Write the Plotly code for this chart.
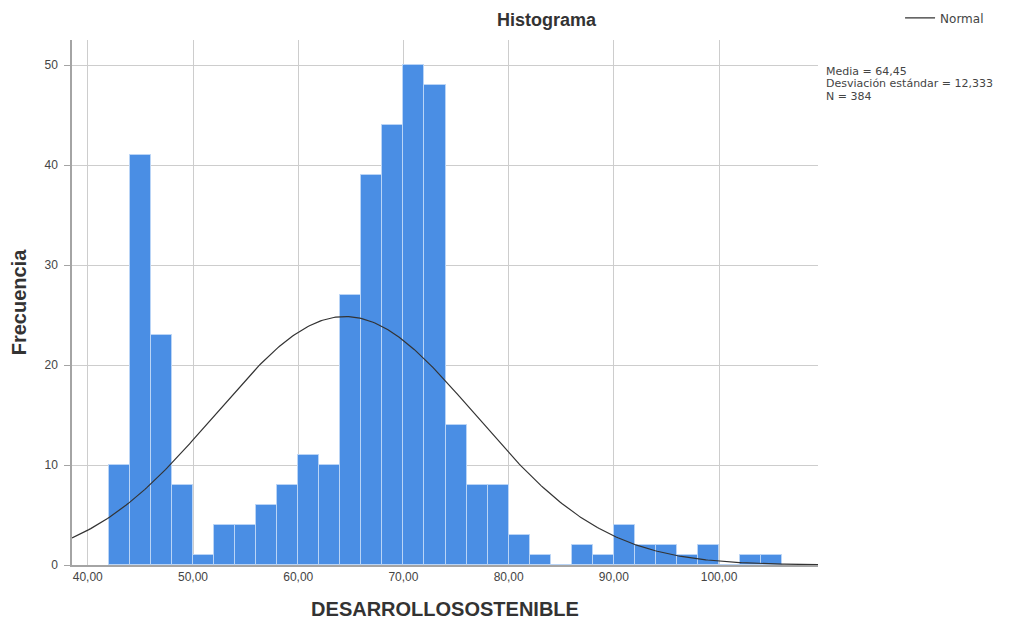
import numpy as np
import plotly.graph_objects as go

# Histogram bins (left edges, width 2) and frequencies
bin_starts = [42, 44, 46, 48, 50, 52, 54, 56, 58, 60, 62, 64, 66, 68, 70, 72,
              74, 76, 78, 80, 82, 84, 86, 88, 90, 92, 94, 96, 98, 100, 102, 104]
frequencies = [10, 41, 23, 8, 1, 4, 4, 6, 8, 11, 10, 27, 39, 44, 50, 48,
               14, 8, 8, 3, 1, 0, 2, 1, 4, 2, 2, 1, 2, 0, 1, 1]
bin_width = 2

# Summary statistics shown on the chart
media = 64.45
desviacion = 12.333
n_total = 384
stats_lines = ["Media = 64,45", "Desviación estándar = 12,333", "N = 384"]

x_tickvals = [40, 50, 60, 70, 80, 90, 100]
x_ticktext = ["40,00", "50,00", "60,00", "70,00", "80,00", "90,00", "100,00"]
y_tickvals = [0, 10, 20, 30, 40, 50]

centers = [b + bin_width / 2 for b in bin_starts]

# Normal curve scaled to the histogram (from the stated mean, sd, N)
xs = np.linspace(38.5, 109.4, 400)
ys = n_total * bin_width / (desviacion * np.sqrt(2 * np.pi)) * np.exp(-0.5 * ((xs - media) / desviacion) ** 2)

fig = go.Figure()
fig.add_trace(go.Bar(
    x=centers, y=frequencies, width=[bin_width] * len(centers),
    marker=dict(color="#4a8ee4", line=dict(color="#b9d4f6", width=1)),
    showlegend=False, hoverinfo="x+y",
))
fig.add_trace(go.Scatter(
    x=xs, y=ys, mode="lines", name="Normal",
    line=dict(color="#333333", width=1.2),
))

grid_col = "#cdcdcd"
axis_col = "#a4a4a4"

stats_ann = []
for i, line in enumerate(stats_lines):
    stats_ann.append(dict(
        text=line, xref="paper", yref="paper", x=1.008, y=1.0, yshift=-31 - 12.5 * i,
        xanchor="left", yanchor="middle", align="left", showarrow=False,
        font=dict(family="DejaVu Sans, sans-serif", size=11, color="#444444")))

fig.update_layout(
    width=1005, height=612,
    paper_bgcolor="white", plot_bgcolor="white",
    margin=dict(l=64, r=195, t=32, b=55, autoexpand=False),
    font=dict(family="Liberation Sans, Arial, sans-serif", color="#444444", size=12),
    bargap=0,
    showlegend=True,
    legend=dict(x=1.11, y=1.042, xanchor="left", yanchor="middle",
                font=dict(family="DejaVu Sans, sans-serif", size=12, color="#444444"),
                itemwidth=30, bgcolor="rgba(0,0,0,0)"),
    xaxis=dict(
        range=[38.5, 109.4], tickmode="array", tickvals=x_tickvals, ticktext=x_ticktext,
        showgrid=True, gridcolor=grid_col, gridwidth=1,
        showline=True, linecolor=axis_col, linewidth=1.5,
        ticks="",
        zeroline=False,
        tickfont=dict(size=12, color="#444444"),
        title=dict(text="<b>DESARROLLOSOSTENIBLE</b>", font=dict(size=20, color="#333333"), standoff=31),
    ),
    yaxis=dict(
        range=[0, 52.5], tickmode="array", tickvals=y_tickvals,
        showgrid=True, gridcolor=grid_col, gridwidth=1,
        showline=True, linecolor=axis_col, linewidth=1.5,
        ticks="outside", ticklen=6, tickcolor=axis_col,
        ticklabelstandoff=4,
        zeroline=False,
        tickfont=dict(size=12, color="#444444"),
        title=dict(text="<b>Frecuencia</b>", font=dict(size=20, color="#333333"), standoff=20),
    ),
    annotations=[
        dict(text="<b>Histograma</b>", xref="paper", yref="paper", x=0.637, y=1.0,
             yshift=20, xanchor="center", yanchor="middle", showarrow=False,
             font=dict(size=18, color="#333333")),
    ] + stats_ann,
)

fig.write_html("out.html")
